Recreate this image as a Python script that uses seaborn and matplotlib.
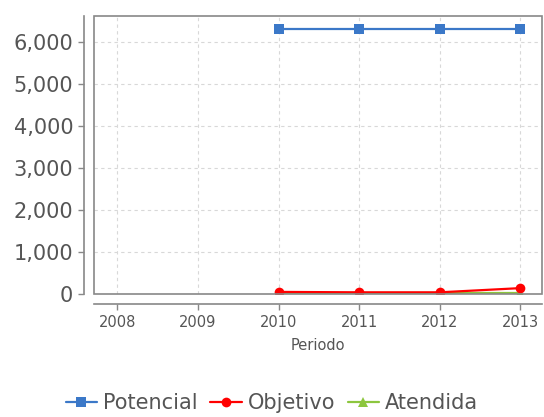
import matplotlib
matplotlib.use("Agg")
import matplotlib.pyplot as plt
from matplotlib.patches import Rectangle
from matplotlib.ticker import FuncFormatter
import seaborn as sns
import numpy as np

# data
years = [2008, 2009, 2010, 2011, 2012, 2013]
potencial = [np.nan, np.nan, 6300, 6300, 6300, 6300]
objetivo = [np.nan, np.nan, 40, 30, 30, 130]
atendida = [np.nan, np.nan, 20, 20, 20, 20]
y_ticks = [0, 1000, 2000, 3000, 4000, 5000, 6000]

sns.set_style("white")
plt.rcParams['font.family'] = ['DejaVu Sans']
text_col = "#555555"

fig = plt.figure(figsize=(5.44, 4.17), dpi=100)
ax = fig.add_axes([94 / 544, 1 - 294 / 417, 448 / 544, 278 / 417])

series = [
    ("Potencial", potencial, "#3b78c8", "s", 7),
    ("Atendida", atendida, "#8cc63e", "^", 7),
    ("Objetivo", objetivo, "#ff0000", "o", 7),
]
for name, vals, col, mk, ms in series:
    sns.lineplot(x=years, y=vals, ax=ax, color=col, marker=mk, markersize=ms,
                 markeredgewidth=0, linewidth=1.6, label=name)

ax.set_xlim(2007.71, 2013.27)
ax.set_ylim(-10, 6620)
ax.set_xticks(years)
ax.set_yticks(y_ticks)
ax.yaxis.set_major_formatter(FuncFormatter(lambda v, p: f"{int(v):,}"))

ax.grid(True, color="#d8d8d8", linestyle=(0, (3, 3)), linewidth=0.8)
ax.set_axisbelow(True)

# plot box drawn as a patch, axes lines offset outward
ax.add_patch(Rectangle((0, 0), 1, 1, transform=ax.transAxes, fill=False,
                       edgecolor="#888888", linewidth=1.2, zorder=5, clip_on=False))
for s in ["top", "right"]:
    ax.spines[s].set_visible(False)
for s in ["left", "bottom"]:
    ax.spines[s].set_position(("outward", 7))
    ax.spines[s].set_color("#888888")
    ax.spines[s].set_linewidth(1.2)

ax.tick_params(axis="both", which="both", length=4, width=1, color="#888888",
               direction="out", colors=text_col)
ax.tick_params(axis="y", labelsize=15, pad=4, left=True)
ax.tick_params(axis="x", labelsize=10.5, pad=4, bottom=True)

ax.set_xlabel("Periodo", fontsize=10.5, color=text_col, labelpad=6)
ax.set_ylabel("")

handles, labels = ax.get_legend_handles_labels()
order = [labels.index(n) for n in ["Potencial", "Objetivo", "Atendida"]]
ax.legend([handles[i] for i in order], [labels[i] for i in order],
          loc="center", bbox_to_anchor=(0.5, 1 - 403 / 417), bbox_transform=fig.transFigure,
          ncol=3, frameon=False, fontsize=15, handlelength=1.5, handletextpad=0.3,
          columnspacing=0.6, labelcolor=text_col)

fig.savefig("out.png", dpi=100, facecolor="white")
